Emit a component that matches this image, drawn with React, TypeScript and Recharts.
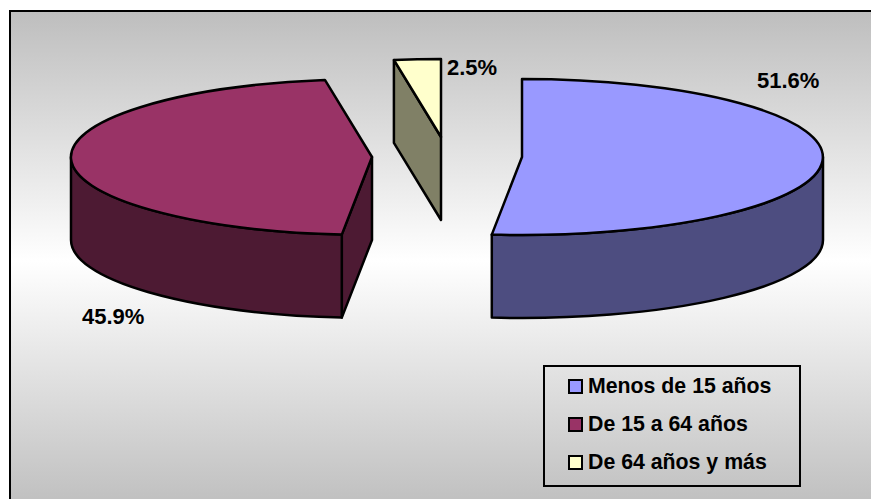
import React from 'react';
import { PieChart, Pie, Legend } from 'recharts';

const categories = ['Menos de 15 años', 'De 15 a 64 años', 'De 64 años y más'];
const shares = [51.6, 45.9, 2.5];

const topColors = ['#9999FF', '#993366', '#FFFFCC'];
const sideColors = ['#4D4D80', '#4D1A33', '#808066'];
const sliceShift = [
  { dx: 75, dy: 0 },
  { dx: -75, dy: 0 },
  { dx: -6, dy: -20 },
];
const labelAnchor = [
  { x: 757, y: 88 },
  { x: 82, y: 324 },
  { x: 447, y: 75 },
];

const RX = 301;
const RY = 78;
const DEPTH = 83;
const LINE = 2.5;
const FONT = '"Liberation Sans", Arial, sans-serif';

const rows = categories.map((name, i) => ({ name, value: shares[i], fill: topColors[i] }));

const rad = (d: number) => (d * Math.PI) / 180;

function Slice3D(props: any) {
  const i = categories.indexOf(props.name);
  const cx = props.cx + sliceShift[i].dx;
  const cy = props.cy + sliceShift[i].dy;
  const a0: number = props.startAngle;
  const a1: number = props.endAngle;
  const pt = (a: number, drop = 0) => [cx + RX * Math.cos(rad(a)), cy - RY * Math.sin(rad(a)) + drop];
  const f = (p: number[]) => `${p[0].toFixed(2)} ${p[1].toFixed(2)}`;

  const top = `M ${cx} ${cy} L ${f(pt(a0))} A ${RX} ${RY} 0 ${a0 - a1 > 180 ? 1 : 0} 1 ${f(pt(a1))} Z`;

  // outer wall: the part of the arc on the near half of the ellipse
  const walls: string[] = [];
  for (const [lo, hi] of [[-180, 0], [-540, -360]]) {
    const from = Math.min(a0, hi);
    const to = Math.max(a1, lo);
    if (from > to) {
      walls.push(
        `M ${f(pt(from))} A ${RX} ${RY} 0 0 1 ${f(pt(to))} L ${f(pt(to, DEPTH))} A ${RX} ${RY} 0 0 0 ${f(pt(from, DEPTH))} Z`,
      );
    }
  }

  // flat cut faces that turn towards the viewer
  const faces: string[] = [];
  const face = (a: number) =>
    `M ${cx} ${cy} L ${f(pt(a))} L ${f(pt(a, DEPTH))} L ${cx} ${cy + DEPTH} Z`;
  if (Math.cos(rad(a0)) < -1e-6) faces.push(face(a0));
  if (Math.cos(rad(a1)) > 1e-6) faces.push(face(a1));

  const common = { stroke: '#000', strokeWidth: LINE, strokeLinejoin: 'round' as const };
  return (
    <g>
      {faces.map((d, k) => (
        <path key={`f${k}`} d={d} fill={sideColors[i]} {...common} />
      ))}
      {walls.map((d, k) => (
        <path key={`w${k}`} d={d} fill={sideColors[i]} {...common} />
      ))}
      <path d={top} fill={topColors[i]} {...common} />
    </g>
  );
}

function SliceLabel(props: any) {
  const i = categories.indexOf(props.name);
  return (
    <text
      x={labelAnchor[i].x}
      y={labelAnchor[i].y}
      fontFamily={FONT}
      fontWeight={700}
      fontSize={22}
      fill="#000"
    >
      {`${Number(props.value).toFixed(1)}%`}
    </text>
  );
}

function LegendBox(props: any) {
  const items = props.payload ?? [];
  return (
    <div
      style={{
        boxSizing: 'border-box',
        width: 258,
        height: 122,
        border: '2.5px solid #000',
        paddingTop: 0,
        fontFamily: FONT,
        fontWeight: 700,
        fontSize: 21.3,
        color: '#000',
      }}
    >
      {items.map((it: any, k: number) => (
        <div key={k} style={{ display: 'flex', alignItems: 'center', height: 38, paddingLeft: 23 }}>
          <span
            style={{
              boxSizing: 'border-box',
              display: 'inline-block',
              width: 15,
              height: 15,
              border: '2.5px solid #000',
              background: it.color,
              marginRight: 5,
            }}
          />
          <span>{it.value}</span>
        </div>
      ))}
    </div>
  );
}

export default function App() {
  return (
    <div style={{ position: 'absolute', left: 0, top: 0, width: 871, height: 499, overflow: 'hidden', background: '#fff' }}>
      <div
        style={{
          position: 'absolute',
          left: 9,
          top: 10,
          width: 870,
          height: 500,
          boxSizing: 'border-box',
          borderLeft: '2.5px solid #000',
          borderTop: '2.5px solid #000',
          background: 'linear-gradient(to bottom, #BEBEBE 0%, #FFFFFF 50%, #BEBEBE 100%)',
        }}
      />
      <div style={{ position: 'absolute', left: 0, top: 0 }}>
        <PieChart width={871} height={499} margin={{ top: 0, right: 0, bottom: 0, left: 0 }}>
          <Pie
            data={rows}
            dataKey="value"
            nameKey="name"
            cx={447}
            cy={157}
            innerRadius={0}
            outerRadius={RX}
            startAngle={90}
            endAngle={-270}
            paddingAngle={0}
            shape={Slice3D}
            label={SliceLabel}
            labelLine={false}
            isAnimationActive={false}
          />
          <Legend
            content={LegendBox}
            itemSorter={null}
            wrapperStyle={{ position: 'absolute', left: 543, top: 365, width: 258, height: 122, bottom: 'auto', right: 'auto' }}
          />
        </PieChart>
      </div>
    </div>
  );
}
